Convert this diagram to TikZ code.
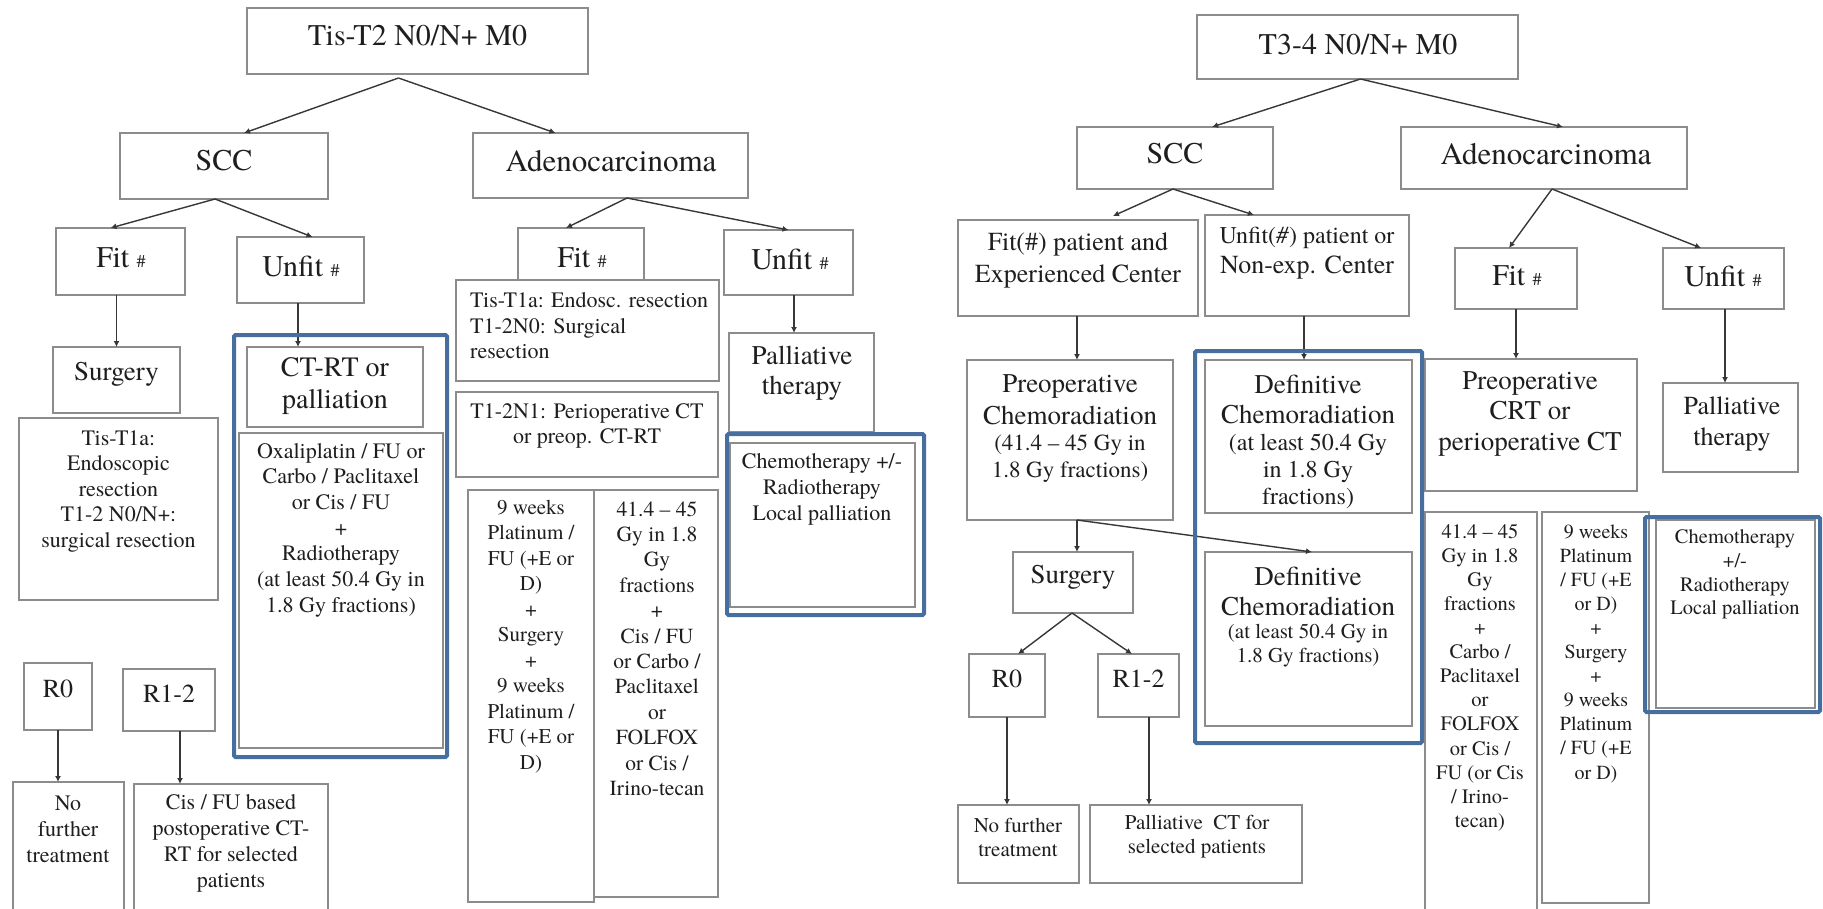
\documentclass[tikz,border=0pt]{standalone}
\usepackage{fontspec}
\setmainfont{texgyretermes-regular.otf}[BoldFont=texgyretermes-bold.otf,ItalicFont=texgyretermes-italic.otf,BoldItalicFont=texgyretermes-bolditalic.otf]
\newfontfamily\tnr{texgyretermes-regular.otf}[ItalicFont=texgyretermes-italic.otf]
\usetikzlibrary{arrows.meta}
\definecolor{boxc}{RGB}{140,140,140}
\definecolor{linec}{RGB}{55,55,55}
\definecolor{bluec}{RGB}{70,110,158}
\definecolor{txtc}{RGB}{30,30,30}
\tikzset{
 box/.style={draw=boxc,line width=1.8pt,fill=white,inner sep=0pt,outer sep=0pt},
 bluebox/.style={draw=bluec,line width=4pt,rounded corners=1.5pt,inner sep=0pt,outer sep=0pt},
 conn/.style={draw=linec,line width=1.4pt,-{Latex[length=6pt,width=6pt]}},
 txt/.style={text=txtc,align=center,inner sep=0pt},
}
\newcommand\bx[6][box]{\pgfmathsetmacro\mybw{#5-#3}\pgfmathsetmacro\mybh{#6-#4}%
 \node[#1,minimum width=\mybw pt,minimum height=\mybh pt] (#2) at ({(#3+#5)/2},{(#4+#6)/2}) {};}
\newcommand\tx[6]{\node[txt,font={\tnr\fontsize{#2}{#3}\selectfont}] (#1) at (#4,#5) {#6};}
\newcommand\hs{{\fontsize{18}{18}\selectfont\#}}
\begin{document}
\begin{tikzpicture}[x=1pt,y=-1pt]
\useasboundingbox (0,0) rectangle (1823,909);
% ---------------- left panel ----------------
\bx{T1}{247}{8}{588}{74} \tx{T1t}{30}{36}{417.5}{36}{Tis-T2 N0/N+ M0}
\bx{SCCL}{120}{133}{328}{199} \tx{SCCLt}{30}{36}{224}{161}{SCC}
\bx{ADEL}{473}{133}{748}{198} \tx{ADELt}{31}{36}{611}{161}{Adenocarcinoma}
\bx{FITL}{56}{228}{185}{295} \tx{FITLt}{30}{36}{121}{258}{Fit \hs}
\bx{UNFL}{237}{237}{364}{303} \tx{UNFLt}{30}{36}{301}{266}{Unfit \hs}
\bx{SURGL}{53}{347}{180}{413} \tx{SURGLt}{27}{30}{116.5}{374}{Surgery}
\bx{TISL}{19}{418}{218}{600} \tx{TISLt}{22}{25.5}{118.5}{491}{Tis-T1a:\\Endoscopic\\resection\\T1-2 N0/N+:\\surgical resection}
\bx{CTRTL}{247}{347}{423}{427} \tx{CTRTLt}{28}{32}{335}{386}{CT-RT or\\palliation}
\bx{OXAL}{239}{433}{443}{748} \tx{OXALt}{22}{25.7}{341}{530}{Oxaliplatin / FU or\\Carbo / Paclitaxel\\or Cis / FU\\+\\Radiotherapy\\(at least 50.4 Gy in\\1.8 Gy fractions)}
\bx{R0L}{24}{663}{92}{730} \tx{R0Lt}{26}{30}{58}{689}{R0}
\bx{R12L}{123}{669}{215}{731} \tx{R12Lt}{26}{30}{169}{694}{R1-2}
\bx{NOFL}{13}{782}{124}{915} \tx{NOFLt}{22}{26}{68}{829}{No\\further\\treatment}
\bx{CISL}{134}{784}{328}{915} \tx{CISLt}{22}{26}{231}{843}{Cis / FU based\\postoperative CT-\\RT for selected\\patients}
\bx{FITL2}{518}{228}{644}{300} \tx{FITL2t}{30}{36}{582}{258}{Fit \hs}
\bx{UNFL2}{724}{230}{853}{295} \tx{UNFL2t}{30}{36}{790}{259}{Unfit \hs}
\bx{TIS2L}{456}{280}{719}{381}
\node[txt,align=left,anchor=west,font={\tnr\fontsize{22}{25.5}\selectfont}] (TIS2Lt) at (470,326) {Tis-T1a: Endosc. resection\\T1-2N0: Surgical\\resection};
\bx{T1N1L}{456}{392}{718}{477} \tx{T1N1Lt}{22}{25}{587}{425.5}{T1-2N1: Perioperative CT\\or preop. CT-RT}
\bx{W9L}{468}{490}{594}{902} \tx{W9Lt}{21}{25.5}{531}{636.5}{9 weeks\\Platinum /\\FU (+E or\\D)\\+\\Surgery\\+\\9 weeks\\Platinum /\\FU (+E or\\D)}
\bx{G41L}{594}{490}{718}{897} \tx{G41Lt}{21.5}{25.4}{657}{648.5}{41.4 \textendash{} 45\\Gy in 1.8\\Gy\\fractions\\+\\Cis / FU\\or Carbo /\\Paclitaxel\\or\\FOLFOX\\or Cis /\\Irino-tecan}
\bx{PALL}{729}{333}{874}{432} \tx{PALLt}{27}{30}{802}{373}{Palliative\\therapy}
\bx{CHEML}{730}{443}{915}{607} \tx{CHEMLt}{22}{26}{822}{489}{Chemotherapy +/-\\Radiotherapy\\Local palliation}
% ---------------- right panel ----------------
\bx{T2}{1197}{15}{1518}{79} \tx{T2t}{30}{36}{1358}{45}{T3-4 N0/N+ M0}
\bx{SCCR}{1077}{127}{1273}{189} \tx{SCCRt}{30}{36}{1175}{154}{SCC}
\bx{ADER}{1401}{127}{1687}{189} \tx{ADERt}{31}{36}{1546}{154}{Adenocarcinoma}
\bx{FITPR}{958}{220}{1198}{316} \tx{FITPRt}{26}{32}{1078}{260}{Fit(\#) patient and\\Experienced Center}
\bx{UNFPR}{1205}{215}{1409}{316} \tx{UNFPRt}{24}{30}{1307}{238}{Unfit(\textit{\#}) patient or}
\tx{UNFPRu}{26}{30}{1307}{268}{Non-exp. Center}
\bx{PRER}{967}{360}{1173}{520} \tx{PRERt}{27}{32}{1070}{400}{Preoperative\\Chemoradiation}
\tx{PRERu}{23}{27}{1070}{459}{(41.4 \textendash{} 45 Gy in\\1.8 Gy fractions)}
\bx{DEF1R}{1205}{360}{1412}{513} \tx{DEF1Rt}{27}{30}{1308}{399}{Definitive\\Chemoradiation}
\tx{DEF1Ru}{24}{27}{1308}{471}{(at least 50.4 Gy\\in 1.8 Gy\\fractions)}
\bx{SURGR}{1013}{552}{1133}{613} \tx{SURGRt}{27}{30}{1073}{577}{Surgery}
\bx{DEF2R}{1205}{552}{1412}{726} \tx{DEF2Rt}{27}{30}{1308}{591}{Definitive\\Chemoradiation}
\tx{DEF2Ru}{21}{24}{1308}{646}{(at least 50.4 Gy in\\1.8 Gy fractions)}
\bx{R0R}{969}{654}{1045}{717} \tx{R0Rt}{26}{30}{1007}{679}{R0}
\bx{R12R}{1098}{654}{1179}{717} \tx{R12Rt}{26}{30}{1138.5}{679}{R1-2}
\bx{NOFR}{958}{805}{1079}{883} \tx{NOFRt}{21}{24}{1018}{837}{No further\\treatment}
\bx{PCTR}{1090}{805}{1302}{883} \tx{PCTRt}{21}{24}{1197}{837}{Palliative\ \ CT for\\selected patients}
\bx{FITR}{1455}{248}{1577}{309} \tx{FITRt}{30}{36}{1517}{276}{Fit \hs}
\bx{UNFR}{1663}{248}{1784}{309} \tx{UNFRt}{30}{36}{1723}{276}{Unfit \hs}
\bx{PCRTR}{1425}{359}{1637}{491} \tx{PCRTRt}{27}{30.5}{1530}{413.5}{Preoperative\\CRT or\\perioperative CT}
\bx{PALR}{1663}{383}{1798}{472} \tx{PALRt}{26}{31}{1732}{423.5}{Palliative\\therapy}
\bx{G41R}{1425}{512}{1537}{915} \tx{G41Rt}{20.5}{24.1}{1480}{677.5}{41.4 \textendash{} 45\\Gy in 1.8\\Gy\\fractions\\+\\Carbo /\\Paclitaxel\\or\\FOLFOX\\or Cis /\\FU (or Cis\\/ Irino-\\tecan)}
\bx{W9R}{1542}{512}{1649}{903} \tx{W9Rt}{20}{24.1}{1596}{653.5}{9 weeks\\Platinum\\/ FU (+E\\or D)\\+\\Surgery\\+\\9 weeks\\Platinum\\/ FU (+E\\or D)}
\bx{CHEMR}{1656}{520}{1815}{708} \tx{CHEMRt}{20.5}{23.7}{1735}{574.5}{Chemotherapy\\+/-\\Radiotherapy\\Local palliation}
% ---------------- connectors ----------------
\coordinate (a1) at ([xshift=-19pt,yshift=-4pt]T1.south);
\draw[conn] (a1) -- ([xshift=20pt]SCCL.north);
\draw[conn] (a1) -- ([xshift=-55pt]ADEL.north);
\coordinate (a2) at ([xshift=-9pt]SCCL.south);
\draw[conn] (a2) -- ([xshift=-10pt]FITL.north);
\draw[conn] (a2) -- ([xshift=12pt]UNFL.north);
\draw[conn] (SURGL.north |- FITL.south) -- (SURGL.north);
\coordinate (a3) at ([xshift=-2.5pt]UNFL.south);
\draw[conn] (a3) -- (a3 |- CTRTL.north);
\coordinate (a4) at ([xshift=16.5pt]ADEL.south);
\draw[conn] (a4) -- ([xshift=-15pt]FITL2.north);
\draw[conn] (a4) -- (UNFL2.north);
\coordinate (a5) at ([xshift=5.5pt]UNFL2.south);
\draw[conn] (a5) -- (a5 |- PALL.north);
\draw[conn] (R0L.south) -- (R0L.south |- NOFL.north);
\coordinate (a6) at ([xshift=11pt]R12L.south);
\draw[conn] (a6) -- (a6 |- CISL.north);
\coordinate (b1) at ([xshift=3pt]T2.south);
\draw[conn] (b1) -- ([xshift=37pt]SCCR.north);
\draw[conn] (b1) -- ([xshift=19pt]ADER.north);
\coordinate (b2) at ([xshift=-2pt]SCCR.south);
\draw[conn] (b2) -- ([xshift=35pt,yshift=4pt]FITPR.north);
\draw[conn] (b2) -- ([xshift=-53pt]UNFPR.north);
\coordinate (b3) at ([xshift=-1pt]FITPR.south);
\draw[conn] (b3) -- (b3 |- PRER.north);
\coordinate (b4) at ([xshift=-3pt]UNFPR.south);
\draw[conn] (b4) -- (b4 |- DEF1R.north);
\coordinate (b5) at ([xshift=7pt]PRER.south);
\draw[conn] (b5) -- (b5 |- SURGR.north);
\draw[conn] (b5) -- ([xshift=3.5pt]DEF2R.north);
\coordinate (b6) at ([xshift=-1pt]SURGR.south);
\draw[conn] (b6) -- ([xshift=11pt]R0R.north);
\draw[conn] (b6) -- ([xshift=-6.5pt]R12R.north);
\draw[conn] (R0R.south) -- (R0R.south |- NOFR.north);
\coordinate (b7) at ([xshift=10.5pt]R12R.south);
\draw[conn] (b7) -- (b7 |- PCTR.north);
\coordinate (b8) at ([xshift=8pt]ADER.south);
\draw[conn] (b8) -- ([xshift=-7pt]FITR.north);
\draw[conn] (b8) -- ([xshift=-22.5pt]UNFR.north);
\coordinate (b9) at (FITR.south);
\draw[conn] (b9) -- (b9 |- PCRTR.north);
\coordinate (b10) at ([xshift=1.5pt]UNFR.south);
\draw[conn] (b10) -- (b10 |- PALR.north);
% ---------------- blue highlight frames ----------------
\bx[bluebox]{BLUEL1}{234}{335}{447}{757}
\bx[bluebox]{BLUEL2}{727}{434}{924}{615}
\bx[bluebox]{BLUER1}{1195}{351}{1422}{743}
\bx[bluebox]{BLUER2}{1645}{517}{1820}{712}
\end{tikzpicture}
\end{document}
